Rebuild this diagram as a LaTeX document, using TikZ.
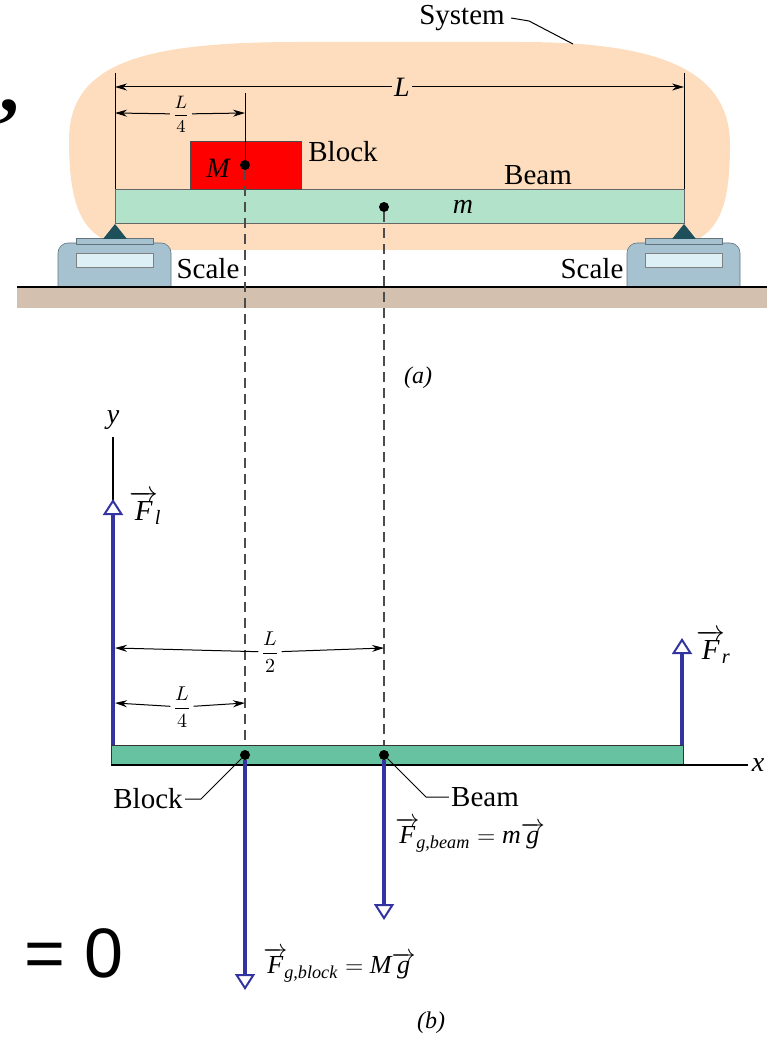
\documentclass[tikz,border=0pt]{standalone}
\usepackage{amsmath}
\usepackage{fontspec}
\setmainfont{Liberation Serif}
\newfontfamily\bigsans{Liberation Sans}
\usetikzlibrary{arrows,arrows.meta}
\definecolor{sysfill}{RGB}{253,221,190}
\definecolor{blockred}{RGB}{255,0,0}
\definecolor{beamlite}{RGB}{178,226,202}
\definecolor{beamdark}{RGB}{102,194,160}
\definecolor{pivot}{RGB}{30,80,92}
\definecolor{scalebody}{RGB}{166,194,208}
\definecolor{scaledisp}{RGB}{220,240,246}
\definecolor{ground}{RGB}{212,192,174}
\definecolor{fblue}{RGB}{52,52,160}
\tikzset{
  lbl/.style = {font=\fontsize{14.5}{16}\selectfont, inner sep=1pt},
  itl/.style = {font=\fontsize{14}{16}\selectfont\itshape, inner sep=1pt},
  frac/.style = {font=\fontsize{9}{11}\selectfont, inner sep=1pt},
  dim/.style = {-{Stealth[length=6pt,width=3.5pt]}, line width=0.5pt},
  ext/.style = {line width=0.5pt},
  dsh/.style = {line width=0.7pt, dash pattern=on 5pt off 3pt, black!70},
  frc/.style = {draw=fblue, line width=2.4pt,
    -{Triangle[open, length=8pt, width=10pt, line width=1pt, fill=white]}},
  dotn/.style = {circle, fill=black, inner sep=0pt, minimum size=5pt},
  scalebox/.style = {fill=scalebody, draw=scalebody!60!black, line width=0.3pt},
  dispbox/.style = {fill=scaledisp, draw=gray, line width=0.4pt}
}
\begin{document}
\begin{tikzpicture}[x=0.5pt,y=-0.5pt]
\useasboundingbox (0,0) rectangle (767,1037);
% ---- (a) the system ----
\fill[sysfill] (69,140) .. controls (69,60) and (150,42) .. (300,42) -- (520,42)
  .. controls (660,42) and (730,70) .. (730,145) .. controls (730,225) and (712,250) .. (640,250)
  -- (160,250) .. controls (90,250) and (69,225) .. (69,140) -- cycle;
\node[lbl] (sys) at (462,18) {System};
\draw[ext] (sys.east) ++(4,0) -- (529,21) -- (573,44);
% scales
\foreach \sx/\nm in {58/sclL, 627/sclR} {
  \filldraw[scalebox] (\sx,287) [rounded corners=5pt] -- (\sx,243) -- (\sx+113,243) [sharp corners] -- (\sx+113,287) -- cycle;
  \filldraw[scalebox] (\sx+18,238) rectangle (\sx+95,244);
  \filldraw[dispbox] (\sx+18,253) rectangle (\sx+95,267);
}
\node[lbl] (scaleL) at (208,269) {Scale};
\node[lbl] (scaleR) at (592,269) {Scale};
% ground
\fill[ground] (17,287) rectangle (767,308);
\draw[line width=0.8pt] (17,287) -- (767,287);
% beam and block
\filldraw[fill=beamlite, draw=black!60, line width=0.4pt] (115,189) rectangle (684,223);
\filldraw[fill=blockred, draw=black!70, line width=0.4pt] (190,141) rectangle (301,189);
\fill[pivot] (115,224) -- (127,239) -- (103,239) -- cycle;
\fill[pivot] (684,224) -- (696,239) -- (672,239) -- cycle;
\node[itl] (M) at (218,168) {M};
\node[itl] (m) at (463,207) {m};
\node[lbl] (blk) at (343,152) {Block};
\node[lbl] (bm) at (538,175) {Beam};
\node[dotn] (mA) at (245,165) {};
\node[dotn] (mB) at (384,207) {};
% dimensions on top
\coordinate (eL) at (115,87);
\coordinate (eR) at (684,87);
\coordinate (qL) at (115,113);
\coordinate (qR) at (245,113);
\draw[ext] (115,73) -- (115,189);
\draw[ext] (684,73) -- (684,189);
\draw[ext] (245,93) -- (mA);
\node[itl] (Ltop) at (402,87) {L};
\draw[dim] (Ltop) -- (eL);
\draw[dim] (Ltop) -- (eR);
\node[frac] (Lq) at (181,114) {$\dfrac{L}{4}$};
\draw[dim] (Lq) -- (qL);
\draw[dim] (Lq) -- (qR);
\node[itl, font=\fontsize{12}{14}\selectfont\itshape] (capa) at (418,378) {(a)};
% ---- (b) free body diagram ----
\node[dotn] (dA) at (245,755) {};
\node[dotn] (dB) at (384,755) {};
\draw[dsh] (mA) -- (dA);
\draw[dsh] (mB) -- (dB);
\node[itl] (yax) at (113,420) {y};
\node[itl] (xax) at (758,765) {x};
\draw[line width=0.7pt] (113,745) -- (113,437);
\filldraw[fill=beamdark, draw=black!80, line width=0.5pt] (111,745) rectangle (683,765);
\draw[line width=1pt] (111,765) -- (748,765);
\node[dotn] at (dA) {};
\node[dotn] at (dB) {};
\draw[frc] (113,745) -- (113,499);
\draw[frc] (682,745) -- (682,638);
\draw[frc] (dA) -- (245,990);
\draw[frc] (dB) -- (384,920);
\node[lbl, anchor=west] (Fl) at (127,508) {$\overrightarrow{\textit{F}}_{\!\textit{l}}$};
\node[lbl, anchor=west] (Fr) at (694,647) {$\overrightarrow{\textit{F}}_{\!\textit{r}}$};
\node[lbl, font=\fontsize{13}{15}\selectfont, anchor=west] (Fbeam) at (393,835) {$\overrightarrow{\textit{F}}_{\!\textit{g,beam}} = \textit{m}\overrightarrow{\textit{g}}$};
\node[lbl, font=\fontsize{13}{15}\selectfont, anchor=west] (Fblock) at (261,965) {$\overrightarrow{\textit{F}}_{\!\textit{g,block}} = \textit{M}\overrightarrow{\textit{g}}$};
% dimensions below
\coordinate (hL) at (115,648);
\coordinate (hR) at (384,648);
\coordinate (fL) at (115,703);
\coordinate (fR) at (245,703);
\node[frac, font=\fontsize{10}{12}\selectfont] (Lh) at (270,652) {$\dfrac{L}{2}$};
\draw[dim] (Lh) -- (hL);
\draw[dim] (Lh) -- (hR);
\node[frac, font=\fontsize{10}{12}\selectfont] (Lf) at (182,707) {$\dfrac{L}{4}$};
\draw[dim] (Lf) -- (fL);
\draw[dim] (Lf) -- (fR);
% leaders
\node[lbl] (blkb) at (148,799) {Block};
\node[lbl] (bmb) at (485,797) {Beam};
\draw[ext] (blkb.east) -- (201,799) -- (dA);
\draw[ext] (bmb.west) -- (426,797) -- (dB);
\node[itl, font=\fontsize{12}{14}\selectfont\itshape] (capb) at (431,1023) {(b)};
% cut-off slide text
\node[font=\fontsize{35}{40}\selectfont\bigsans, anchor=west, inner sep=0pt] (eqz) at (24,953) {= 0};
\node[font=\fontsize{40}{44}\selectfont\bfseries, anchor=base west, inner sep=0pt] (cm) at (-1,112) {,};
\end{tikzpicture}
\end{document}
